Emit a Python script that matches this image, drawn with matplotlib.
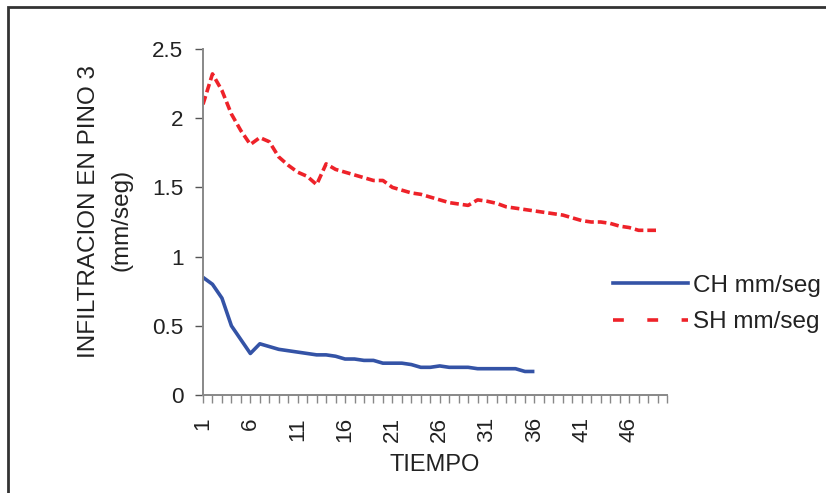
import matplotlib.pyplot as plt
from matplotlib.lines import Line2D
from matplotlib.patches import Rectangle
import numpy as np

plt.rcParams['font.family'] = ['Liberation Sans', 'DejaVu Sans']

# infiltration readings, one per time step
ch = [0.85, 0.80, 0.70, 0.50, 0.40, 0.30, 0.37, 0.35, 0.33, 0.32,
      0.31, 0.30, 0.29, 0.29, 0.28, 0.26, 0.26, 0.25, 0.25, 0.23,
      0.23, 0.23, 0.22, 0.20, 0.20, 0.21, 0.20, 0.20, 0.20, 0.19,
      0.19, 0.19, 0.19, 0.19, 0.17, 0.17]
sh = [2.10, 2.32, 2.20, 2.03, 1.91, 1.81, 1.86, 1.83, 1.72, 1.66,
      1.61, 1.58, 1.52, 1.67, 1.63, 1.61, 1.59, 1.57, 1.55, 1.55,
      1.50, 1.48, 1.46, 1.45, 1.43, 1.41, 1.39, 1.38, 1.37, 1.41,
      1.40, 1.385, 1.36, 1.35, 1.34, 1.33, 1.32, 1.31, 1.30, 1.28,
      1.26, 1.25, 1.25, 1.24, 1.22, 1.21, 1.19, 1.19, 1.19]
labels = ['CH mm/seg', 'SH mm/seg']
yticks = [0, 0.5, 1, 1.5, 2, 2.5]
ytick_labels = ['0', '0.5', '1', '1.5', '2', '2.5']
n_cat = 50

W, H = 826, 493
fig = plt.figure(figsize=(W / 100, H / 100), dpi=100)
ax = fig.add_axes([203 / W, (H - 395) / H, (667 - 203) / W, (395 - 49) / H])

blue = '#3453a6'
red = '#ee2229'
ax.plot(np.arange(1, len(ch) + 1), ch, color=blue, lw=2.6, solid_capstyle='butt')
ax.plot(np.arange(1, len(sh) + 1), sh, color=red, lw=2.6, dashes=(2.4, 1.1))

ax.set_xlim(1, n_cat)
ax.set_ylim(0, 2.5)
ax.set_yticks(yticks)
ax.set_yticklabels(ytick_labels)
ax.set_xticks(np.arange(1, n_cat, 5))
ax.set_xticklabels([str(v) for v in range(1, n_cat, 5)], rotation=90)
ax.set_xticks(np.arange(1, n_cat + 1), minor=True)

for side in ['top', 'right']:
    ax.spines[side].set_visible(False)
for side in ['left', 'bottom']:
    ax.spines[side].set_color('#888888')
    ax.spines[side].set_linewidth(1.4)

ax.tick_params(axis='y', length=6, width=1, color='#555555', pad=8, labelsize=16.2, labelcolor='#222222')
ax.tick_params(axis='x', which='both', length=6, width=1, color='#888888', pad=10, labelsize=16.2, labelcolor='#222222')

ax.set_xlabel('TIEMPO', fontsize=17, color='#222222', labelpad=8)
# two-line y title, each line placed on its own
fig.text(89 / W, 1 - 212 / H, 'INFILTRACION EN PINO 3', rotation=90,
         ha='center', va='center', fontsize=17.5, color='#222222')
fig.text(121 / W, 1 - 220 / H, '(mm/seg)', rotation=90,
         ha='center', va='center', fontsize=17.5, color='#222222')

handles = [Line2D([], [], color=blue, lw=2.6),
           Line2D([], [], color=red, lw=2.6, dashes=(3, 6.5))]
fig.legend(handles, labels, loc='center left', bbox_to_anchor=(591 / W, 1 - 304 / H),
           frameon=False, fontsize=17.5, handlelength=3.1, handletextpad=0.2,
           labelspacing=0.6, labelcolor='#222222')

# chart frame
fig.add_artist(Rectangle((8 / W, -0.1), 1.2, 1.1 - 7 / H, transform=fig.transFigure,
                         fill=False, edgecolor='#333333', lw=2))

fig.savefig('out.png', dpi=100)
